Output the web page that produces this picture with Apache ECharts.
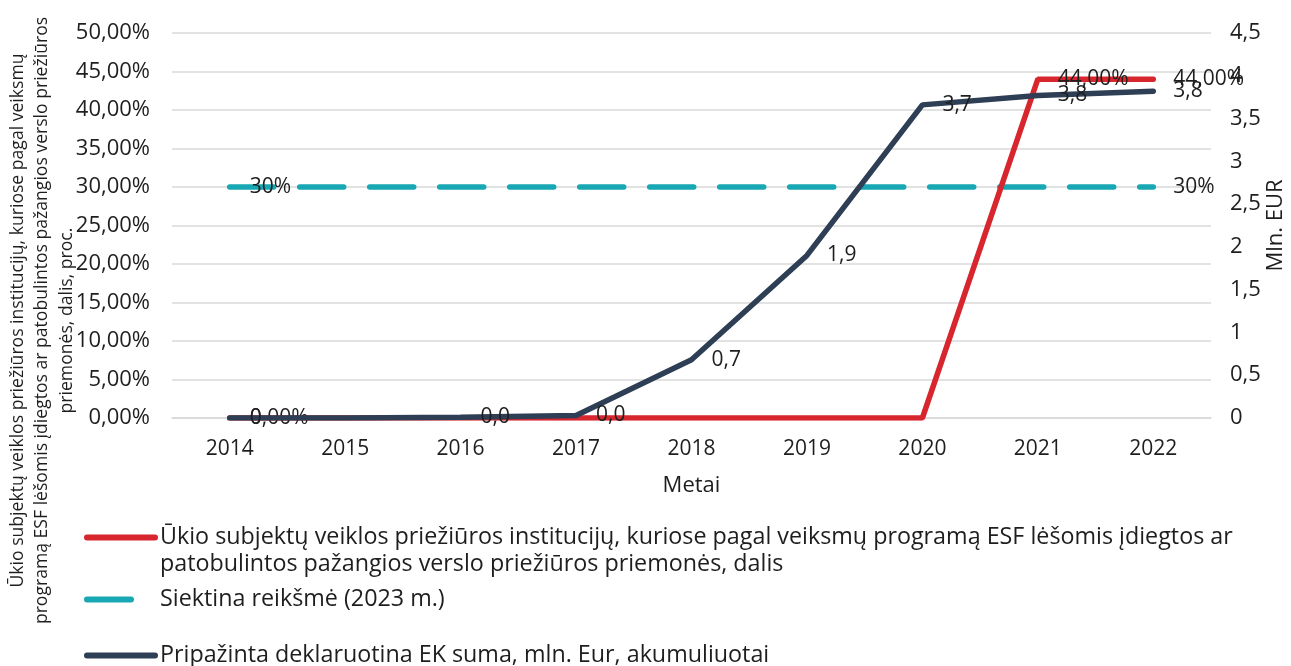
<!DOCTYPE html>
<html>
<head>
<meta charset="utf-8">
<script src="https://cdn.jsdelivr.net/npm/echarts@6/dist/echarts.min.js"></script>
<style>
  html, body { margin: 0; padding: 0; background: #fff; }
  #chart { width: 1291px; height: 666px; }
</style>
</head>
<body>
<div id="chart"></div>
<script>
// metai
var years = ['2014', '2015', '2016', '2017', '2018', '2019', '2020', '2021', '2022'];
// dalis, proc.
var shareValues = [0, 0, 0, 0, 0, 0, 0, 44, 44];
// siektina reiksme
var targetValues = [30, 30, 30, 30, 30, 30, 30, 30, 30];
// mln. Eur, akumuliuotai
var amountValues = [0, 0, 0.01, 0.03, 0.68, 1.9, 3.66, 3.77, 3.82];

// which points carry a value label
var shareLabelIdx = [0, 7, 8];
var targetLabelIdx = [0, 8];
var amountLabelIdx = [0, 2, 3, 4, 5, 6, 7, 8];

var nameShare = 'Ūkio subjektų veiklos priežiūros institucijų, kuriose pagal veiksmų programą ESF lėšomis įdiegtos ar patobulintos pažangios verslo priežiūros priemonės, dalis';
var nameTarget = 'Siektina reikšmė (2023 m.)';
var nameAmount = 'Pripažinta deklaruotina EK suma, mln. Eur, akumuliuotai';

var FONT = 'Open Sans';
var TXT = '#1e1e1e';

function comma(v, d) {
    return v.toFixed(d).replace('.', ',');
}

var labelBase = {
    show: true,
    position: 'right',
    distance: 20,
    color: TXT,
    fontFamily: FONT,
    fontSize: 21
};

var legendBase = {
    orient: 'vertical',
    left: 84,
    padding: 0,
    itemWidth: 68,
    itemHeight: 14,
    itemStyle: { opacity: 0 },
    lineStyle: { width: 6, cap: 'round' },
    textStyle: { color: TXT, fontFamily: FONT, fontSize: 23.3, lineHeight: 27 }
};

var myChart = echarts.init(document.getElementById('chart'));

myChart.setOption({
    animation: false,
    textStyle: { fontFamily: FONT },
    grid: { left: 172, right: 80, top: 33, bottom: 248, outerBoundsMode: 'none' },
    legend: [Object.assign({}, legendBase, {
        top: 497,
        itemGap: 8,
        // first line stays level with the icon, second one goes below it
        formatter: function (n) {
            return n === nameShare ? '\n' + n.replace(' ar patobulintos', ' ar\npatobulintos') : n;
        },
        data: [nameShare, nameTarget]
    }), Object.assign({}, legendBase, {
        top: 642,
        data: [nameAmount]
    })],
    xAxis: {
        type: 'category',
        data: years,
        boundaryGap: true,
        name: 'Metai',
        nameLocation: 'middle',
        nameGap: 57,
        nameTextStyle: { color: TXT, fontFamily: FONT, fontSize: 22 },
        axisTick: { show: false },
        axisLine: { lineStyle: { color: '#d9d9d9', width: 1.5 } },
        axisLabel: { color: TXT, fontFamily: FONT, fontSize: 21, margin: 21 }
    },
    yAxis: [{
        type: 'value',
        min: 0,
        max: 50,
        interval: 5,
        name: 'Ūkio subjektų veiklos priežiūros institucijų, kuriose pagal veiksmų\nprogramą ESF lėšomis įdiegtos ar patobulintos pažangios verslo priežiūros\npriemonės, dalis, proc.',
        nameLocation: 'middle',
        nameRotate: 90,
        nameGap: 93,
        nameMoveOverlap: false,
        nameTextStyle: { color: TXT, fontFamily: FONT, fontSize: 17.6, lineHeight: 24.5, padding: [0, 190, 0, 0] },
        axisLine: { show: false },
        axisTick: { show: false },
        splitLine: { lineStyle: { color: '#d9d9d9', width: 1.5 } },
        axisLabel: {
            color: TXT, fontFamily: FONT, fontSize: 22, margin: 22,
            formatter: function (v) { return comma(v, 2) + '%'; }
        }
    }, {
        type: 'value',
        min: 0,
        max: 4.5,
        interval: 0.5,
        name: 'Mln. EUR',
        nameLocation: 'middle',
        nameRotate: 90,
        nameGap: 54,
        nameMoveOverlap: false,
        nameTextStyle: { color: TXT, fontFamily: FONT, fontSize: 22 },
        axisLine: { show: false },
        axisTick: { show: false },
        splitLine: { show: false },
        axisLabel: {
            color: TXT, fontFamily: FONT, fontSize: 22, margin: 19,
            formatter: function (v) { return String(v).replace('.', ','); }
        }
    }],
    series: [{
        name: nameShare,
        type: 'line',
        yAxisIndex: 0,
        data: shareValues,
        symbol: 'circle',
        symbolSize: 0,
        color: '#d7262e',
        lineStyle: { width: 5.5, cap: 'round' },
        z: 3,
        label: Object.assign({}, labelBase, {
            formatter: function (p) {
                return shareLabelIdx.indexOf(p.dataIndex) >= 0 ? comma(p.value, 2) + '%' : '';
            }
        })
    }, {
        name: nameTarget,
        type: 'line',
        yAxisIndex: 0,
        data: targetValues,
        symbol: 'circle',
        symbolSize: 0,
        color: '#17a8b4',
        lineStyle: { width: 5.5, type: [44, 26], cap: 'round' },
        z: 2,
        label: Object.assign({}, labelBase, {
            formatter: function (p) {
                return targetLabelIdx.indexOf(p.dataIndex) >= 0 ? p.value + '%' : '';
            }
        })
    }, {
        name: nameAmount,
        type: 'line',
        yAxisIndex: 1,
        data: amountValues,
        symbol: 'circle',
        symbolSize: 0,
        color: '#2e3e55',
        lineStyle: { width: 5.5, cap: 'round' },
        z: 4,
        label: Object.assign({}, labelBase, {
            formatter: function (p) {
                if (amountLabelIdx.indexOf(p.dataIndex) < 0) return '';
                return p.value === 0 ? '0' : comma(p.value, 1);
            }
        })
    }]
});
</script>
</body>
</html>
